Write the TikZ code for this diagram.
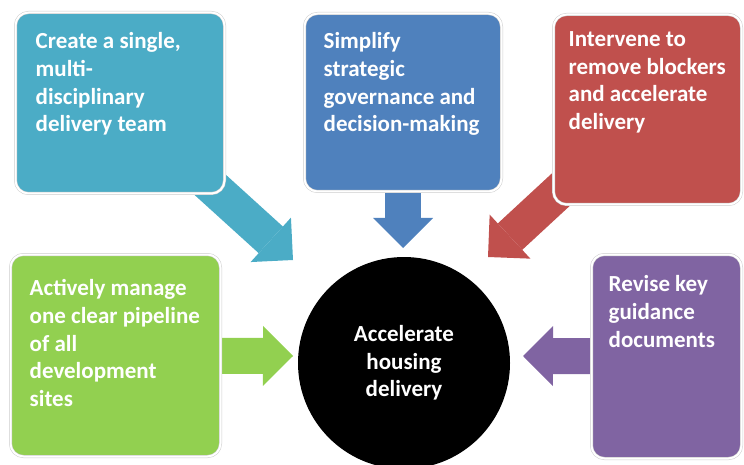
\documentclass[tikz,border=0pt]{standalone}
\usepackage{fontspec}
\setmainfont{Carlito}
\usetikzlibrary{%
  arrows.meta,%
  backgrounds,% arrows behind the boxes
  positioning,%
  calc
}
\definecolor{teambox}{HTML}{4BACC6}
\definecolor{govbox}{HTML}{4F81BD}
\definecolor{unblockbox}{HTML}{C0504D}
\definecolor{pipebox}{HTML}{92D050}
\definecolor{guidebox}{HTML}{8064A2}

\begin{document}
\begin{tikzpicture}[
  x=1pt, y=-1pt,
  font=\fontsize{23}{27.6}\selectfont\bfseries,
  tile/.style={rectangle, anchor=north west, draw=black!20, double=white, double distance=2pt, line width=0.5pt, rounded corners=13pt, outer sep=0pt},
  tiletext/.style={anchor=north west, inner sep=0pt, align=left, text=white},
  fatarrow/.style={line width=36pt, -{Triangle[length=30pt,width=60pt,line width=0pt]}}
]
\useasboundingbox (0,0) rectangle (744,465);

% the five tiles
\node[tile, fill=teambox, minimum width=209pt, minimum height=181pt] (team) at (15.5,12.5) {};
\node[tile, fill=govbox, minimum width=197pt, minimum height=178pt] (gov) at (304.5,13.5) {};
\node[tile, fill=unblockbox, minimum width=188pt, minimum height=190pt] (unblock) at (553.5,14.5) {};
\node[tile, fill=pipebox, minimum width=210pt, minimum height=202pt] (pipe) at (10.5,254.5) {};
\node[tile, fill=guidebox, minimum width=150pt, minimum height=204pt] (guide) at (591.5,254.5) {};

\node[tiletext] (team text) at ([xshift=20pt,yshift=-20pt]team.north west) {Create a single,\\multi-\\disciplinary\\delivery team};
\node[tiletext] (gov text) at ([xshift=19pt,yshift=-19pt]gov.north west) {Simplify\\strategic\\governance and\\decision-making};
\node[tiletext] (unblock text) at ([xshift=15pt,yshift=-17pt]unblock.north west) {Intervene to\\remove blockers\\and accelerate\\delivery};
\node[tiletext] (pipe text) at ([xshift=19pt,yshift=-25pt]pipe.north west) {Actively manage\\one clear pipeline\\of all\\development\\sites};
\node[tiletext] (guide text) at ([xshift=17pt,yshift=-21pt]guide.north west) {Revise key\\guidance\\documents};

% the goal
\node[circle, fill=black, minimum size=212pt, inner sep=0pt, align=center, text=white] (goal) at (404,363) {Accelerate\\housing\\delivery};

% arrow tips
\coordinate (team tip) at (293,260);
\coordinate (gov tip) at (403,248);
\coordinate (unblock tip) at (488,257);
\coordinate (pipe tip) at (293,356);
\coordinate (guide tip) at (523,356);

\begin{scope}[on background layer]
\draw[fatarrow, teambox] (team.center) -- (team tip);
\draw[fatarrow, govbox] (gov.center) -- (gov tip);
\draw[fatarrow, unblockbox] (unblock.center) -- (unblock tip);
\draw[fatarrow, pipebox] (pipe.center) -- (pipe tip);
\draw[fatarrow, guidebox] (guide.center) -- (guide tip);
\end{scope}
\end{tikzpicture}
\end{document}
